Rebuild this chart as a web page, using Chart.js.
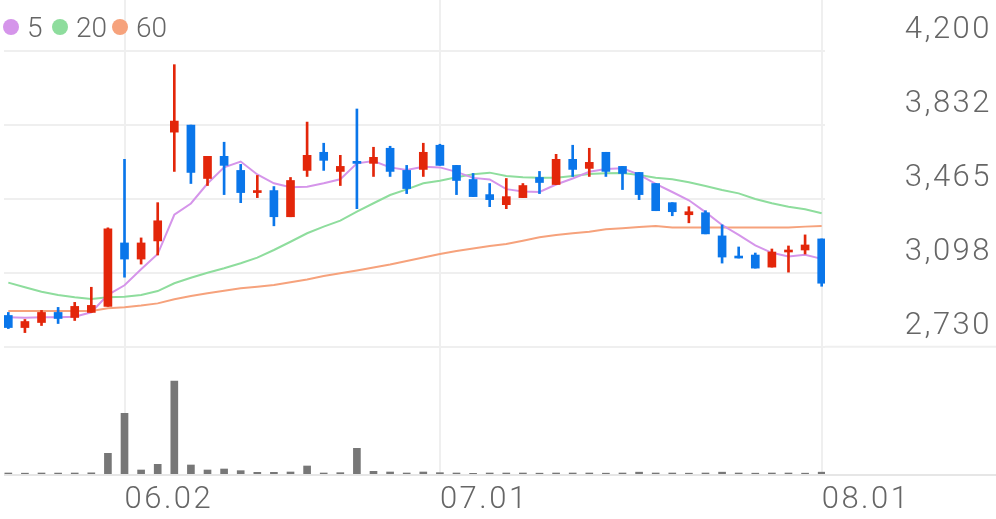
<!DOCTYPE html>
<html>
<head>
<meta charset="utf-8">
<script src="https://cdn.jsdelivr.net/npm/chart.js@4.4.0/dist/chart.umd.min.js"></script>
<style>
  html, body { margin: 0; padding: 0; background: #fff; }
  #wrap { position: relative; width: 996px; height: 519px; }
  #legend { position: absolute; left: 0; top: 10px; height: 34px;
            font: 300 28px Roboto, sans-serif; color: #666; }
  #legend .item { position: absolute; top: 0; display: flex; align-items: center; height: 34px; }
  #legend .dot { width: 16px; height: 16px; border-radius: 50%; margin-right: 8px; }
</style>
</head>
<body>
<div id="wrap">
  <canvas id="stockChart" width="996" height="519"></canvas>
  <div id="legend"></div>
</div>
<script>
// 거래일 (2025.05.22 ~ 08.01)
const dates = ['05.22','05.23','05.26','05.27','05.28','05.29','05.30','06.02','06.04','06.05',
  '06.09','06.10','06.11','06.12','06.13','06.16','06.17','06.18','06.19','06.20',
  '06.23','06.24','06.25','06.26','06.27','06.30','07.01','07.02','07.03','07.04',
  '07.07','07.08','07.09','07.10','07.11','07.14','07.15','07.16','07.17','07.18',
  '07.21','07.22','07.23','07.24','07.25','07.28','07.29','07.30','07.31','08.01'];

// 시가 / 고가 / 저가 / 종가 (원)
const openP = [2885, 2825, 2850, 2900, 2875, 2900, 2930, 3245, 3165, 3255,
  3795, 3830, 3565, 3675, 3605, 3495, 3505, 3375, 3605, 3695,
  3600, 3650, 3640, 3715, 3605, 3610, 3730, 3630, 3560, 3485,
  3435, 3470, 3570, 3535, 3660, 3615, 3695, 3625, 3595, 3540,
  3445, 3385, 3395, 3280, 3180, 3185, 3125, 3200, 3210, 3265];
const highP = [2900, 2865, 2910, 2925, 2950, 3025, 3320, 3660, 3270, 3445,
  4130, 3830, 3675, 3745, 3635, 3580, 3525, 3570, 3845, 3740,
  3680, 3910, 3720, 3725, 3630, 3740, 3735, 3630, 3590, 3540,
  3565, 3540, 3600, 3685, 3730, 3715, 3695, 3625, 3595, 3540,
  3445, 3425, 3405, 3335, 3225, 3195, 3215, 3230, 3285, 3265];
const lowP = [2820, 2800, 2835, 2845, 2860, 2900, 2930, 3075, 3140, 3185,
  3600, 3540, 3530, 3485, 3445, 3470, 3330, 3375, 3575, 3605,
  3530, 3415, 3575, 3575, 3490, 3575, 3630, 3485, 3475, 3425,
  3415, 3470, 3490, 3535, 3575, 3575, 3575, 3510, 3460, 3405,
  3380, 3345, 3290, 3145, 3170, 3120, 3125, 3100, 3190, 3030];
const closeP = [2825, 2855, 2900, 2870, 2930, 2935, 3315, 3165, 3245, 3355,
  3850, 3595, 3675, 3630, 3495, 3505, 3375, 3555, 3680, 3655,
  3625, 3640, 3670, 3600, 3515, 3695, 3630, 3555, 3475, 3460,
  3475, 3530, 3545, 3660, 3610, 3645, 3600, 3590, 3485, 3405,
  3400, 3400, 3290, 3175, 3170, 3120, 3200, 3210, 3235, 3045];

// 이동평균선
const ma5 = [2876, 2874, 2876, 2876, 2879, 2901, 2987, 3035, 3114, 3190,
  3385, 3441, 3540, 3620, 3649, 3585, 3541, 3521, 3524, 3541,
  3561, 3640, 3652, 3620, 3607, 3623, 3620, 3598, 3568, 3560,
  3512, 3500, 3498, 3535, 3565, 3598, 3612, 3616, 3584, 3538,
  3498, 3457, 3398, 3334, 3285, 3233, 3196, 3178, 3186, 3166];
const ma20 = [3048, 3025, 3003, 2987, 2975, 2967, 2975, 2978, 2987, 3006,
  3045, 3072, 3097, 3119, 3144, 3172, 3210, 3251, 3293, 3326,
  3356, 3400, 3442, 3483, 3511, 3541, 3554, 3571, 3586, 3594,
  3577, 3571, 3569, 3569, 3577, 3587, 3591, 3592, 3582, 3569,
  3561, 3546, 3528, 3508, 3491, 3463, 3442, 3425, 3412, 3392];
const ma60 = [2907, 2907, 2907, 2907, 2907, 2907, 2921, 2926, 2934, 2945,
  2965, 2982, 2995, 3008, 3020, 3028, 3036, 3050, 3064, 3081,
  3094, 3108, 3123, 3138, 3155, 3173, 3190, 3205, 3217, 3230,
  3240, 3256, 3273, 3284, 3293, 3301, 3313, 3318, 3324, 3329,
  3322, 3322, 3322, 3322, 3322, 3322, 3322, 3322, 3326, 3329];

// 거래량 (주)
const volume = [30000, 25000, 30000, 28000, 30000, 35000, 620000, 1820000, 120000, 290000,
  2790000, 270000, 120000, 150000, 100000, 50000, 50000, 60000, 240000, 30000,
  40000, 770000, 80000, 60000, 30000, 60000, 40000, 30000, 20000, 30000,
  30000, 30000, 25000, 30000, 30000, 30000, 25000, 30000, 55000, 30000,
  30000, 25000, 30000, 55000, 30000, 25000, 30000, 30000, 25000, 55000];

// 축 눈금
const priceTicks = [2730, 3097.5, 3465, 3832.5, 4200];
const priceTickLabels = ['2,730', '3,098', '3,465', '3,832', '4,200'];
const dateTicks = ['06.02', '07.01', '08.01'];

const maNames = ['5', '20', '60'];
const maColors = ['#d595ea', '#8edd9d', '#f6a27c'];
const legendX = [3, 52, 112];
const UP = '#e3260a';
const DOWN = '#0a76ea';
const GRID = '#efefef';
const TEXT = '#666666';
const FONT = { family: 'Roboto', size: 31, weight: 300 };

// 범례
const legendEl = document.getElementById('legend');
maNames.forEach((name, i) => {
  legendEl.insertAdjacentHTML('beforeend',
    `<div class="item" style="left:${legendX[i]}px"><span class="dot" style="background:${maColors[i]}"></span><span>${name}</span></div>`);
});

const idx = dates.map((d, i) => i);
const candleColor = (c) => closeP[c.dataIndex] >= openP[c.dataIndex] ? UP : DOWN;

// 축 글자 자간
const spacing = {
  id: 'spacing',
  beforeLayout(chart) { chart.ctx.letterSpacing = '2.5px'; },
  beforeDraw(chart) { chart.ctx.letterSpacing = '2.5px'; }
};

// 2,730 줄과 바닥선은 오른쪽 끝까지
const extendLines = {
  id: 'extendLines',
  beforeDatasetsDraw(chart) {
    const { ctx, chartArea, scales } = chart;
    const y = scales.y.getPixelForValue(priceTicks[0]);
    ctx.save();
    ctx.strokeStyle = GRID;
    ctx.lineWidth = 2;
    ctx.beginPath();
    ctx.moveTo(chartArea.right, y);
    ctx.lineTo(chart.width, y);
    ctx.stroke();
    ctx.restore();
  },
  afterDatasetsDraw(chart) {
    const { ctx, chartArea } = chart;
    ctx.save();
    ctx.strokeStyle = '#e6e6e6';
    ctx.lineWidth = 2;
    ctx.beginPath();
    ctx.moveTo(chartArea.left, chartArea.bottom + 1);
    ctx.lineTo(chart.width, chartArea.bottom + 1);
    ctx.stroke();
    ctx.restore();
  }
};

const ctx = document.getElementById('stockChart').getContext('2d');

new Chart(ctx, {
  type: 'bar',
  data: {
    datasets: [
      {
        label: 'body',
        data: idx.map(i => ({ x: i, y: [openP[i], closeP[i]] })),
        backgroundColor: candleColor,
        barThickness: 8,
        minBarLength: 2,
        grouped: false,
        order: 0
      },
      {
        label: 'wick',
        data: idx.map(i => ({ x: i, y: [lowP[i], highP[i]] })),
        backgroundColor: candleColor,
        barThickness: 2,
        grouped: false,
        order: 1
      },
      ...[ma5, ma20, ma60].map((arr, k) => ({
        type: 'line',
        label: maNames[k],
        data: idx.map(i => ({ x: i, y: arr[i] })),
        borderColor: maColors[k],
        borderWidth: 2,
        pointRadius: 0,
        tension: 0,
        order: 2 + k
      })),
      {
        label: 'volume',
        data: idx.map(i => ({ x: i, y: volume[i] })),
        backgroundColor: '#777777',
        barThickness: 7,
        grouped: false,
        yAxisID: 'yVol',
        order: 6
      }
    ]
  },
  options: {
    responsive: false,
    animation: false,
    layout: { autoPadding: false, padding: { left: 4, right: 4, top: 0, bottom: 0 } },
    plugins: { legend: { display: false }, tooltip: { enabled: false } },
    scales: {
      x: {
        type: 'linear',
        min: -0.26,
        max: 49.2,
        offset: false,
        afterBuildTicks: (s) => { s.ticks = dateTicks.map(d => ({ value: dates.indexOf(d) })); },
        afterFit: (s) => { s.height = 45; s.paddingLeft = 0; s.paddingRight = 0; },
        ticks: {
          callback: (v) => dates[v],
          align: 'start',
          padding: 8,
          autoSkip: false,
          maxRotation: 0,
          color: TEXT,
          font: FONT
        },
        grid: { color: GRID, lineWidth: 2, drawTicks: false, offset: false },
        border: { display: false }
      },
      y: {
        position: 'right',
        min: 2098,
        max: 4451,
        afterBuildTicks: (s) => { s.ticks = priceTicks.map(v => ({ value: v })); },
        afterFit: (s) => { s.width = 167; s.paddingTop = 0; s.paddingBottom = 0; },
        ticks: {
          callback: (v, i) => priceTickLabels[i],
          crossAlign: 'far',
          padding: 4,
          labelOffset: -20,
          color: TEXT,
          font: FONT
        },
        grid: { color: GRID, lineWidth: 2, drawTicks: false },
        border: { display: false }
      },
      yVol: {
        display: false,
        min: 0,
        max: 14220000
      }
    }
  },
  plugins: [spacing, extendLines]
});
</script>
</body>
</html>
